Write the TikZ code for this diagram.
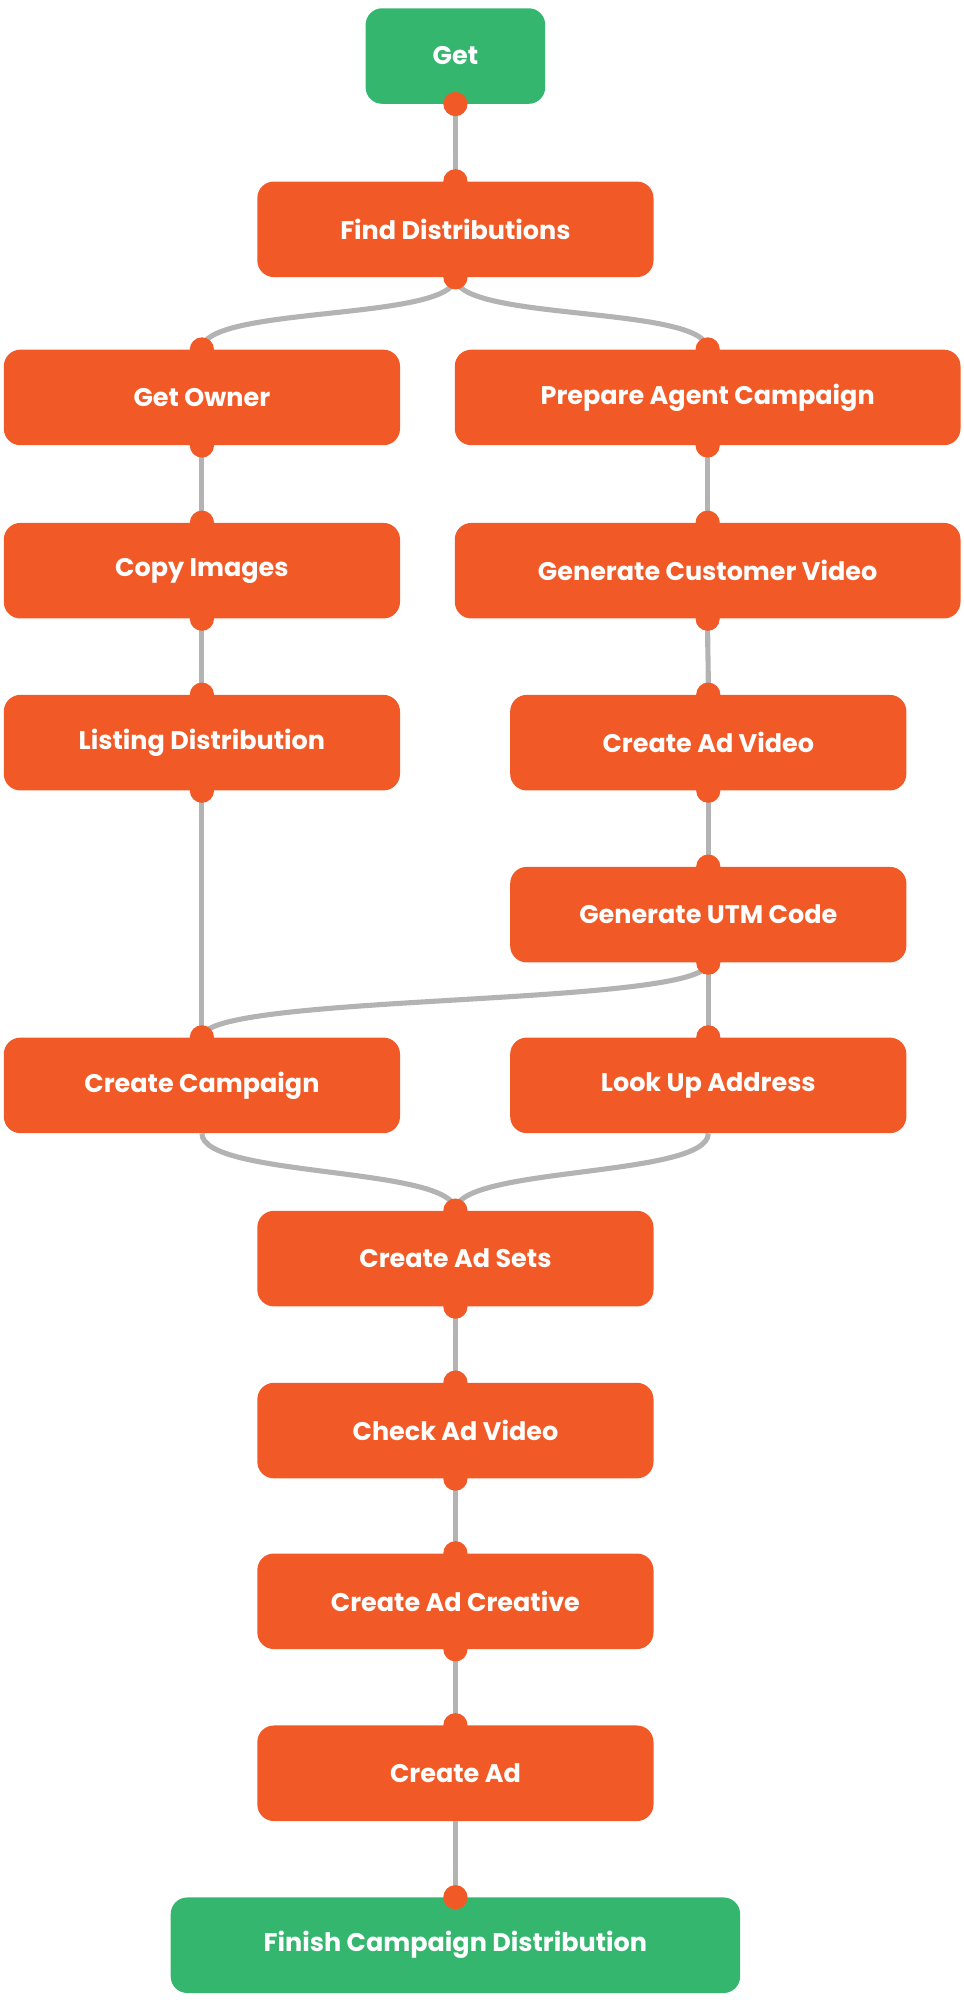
\documentclass[tikz,border=0pt]{standalone}
\usepackage{fontspec}
\setmainfont{Poppins}
\usetikzlibrary{calc}
\definecolor{org}{HTML}{F15A27}
\definecolor{grn}{HTML}{34B66F}
\definecolor{ln}{HTML}{B3B3B3}
\begin{document}
\begin{tikzpicture}[x=1pt,y=-1pt,
  box/.style={fill=org,rounded corners=13pt,minimum height=75pt,text=white,font=\fontsize{20}{24}\selectfont\bfseries,inner sep=0pt},
  gbox/.style={box,fill=grn},
  conn/.style={draw=ln,line width=4pt},
  port/.style={circle,fill=org,inner sep=0pt,minimum size=19pt}]
\useasboundingbox (0,0) rectangle (756,1570);
\node[gbox,minimum width=141pt] (get) at (357.5,44) {Get};
\node[box,minimum width=311pt] (fd) at (357.5,180) {Find Distributions};
\node[box,minimum width=311pt] (go) at (158.5,312) {Get Owner};
\node[box,minimum width=397pt] (pac) at (555.5,312) {Prepare Agent Campaign};
\node[box,minimum width=311pt] (ci) at (158.5,448) {Copy Images};
\node[box,minimum width=397pt] (gcv) at (555.5,448) {Generate Customer Video};
\node[box,minimum width=311pt] (ld) at (158.5,583) {Listing Distribution};
\node[box,minimum width=311pt] (cav) at (556,583) {Create Ad Video};
\node[box,minimum width=311pt] (utm) at (556,718) {Generate UTM Code};
\node[box,minimum width=311pt] (cc) at (158.5,852) {Create Campaign};
\node[box,minimum width=311pt] (lua) at (556,852) {Look Up Address};
\node[box,minimum width=311pt] (cas) at (357.5,988) {Create Ad Sets};
\node[box,minimum width=311pt] (cv) at (357.5,1123) {Check Ad Video};
\node[box,minimum width=311pt] (cr) at (357.5,1257) {Create Ad Creative};
\node[box,minimum width=311pt] (ca) at (357.5,1392) {Create Ad};
\node[gbox,minimum width=447pt] (fin) at (357.5,1527) {Finish Campaign Distribution};
\begin{scope}[on background layer/.style={}]
\foreach \a/\b in {get/fd,fd/go,fd/pac,go/ci,ci/ld,ld/cc,pac/gcv,gcv/cav,cav/utm,utm/cc,utm/lua,cc/cas,lua/cas,cas/cv,cv/cr,cr/ca,ca/fin}{
  \draw[conn] (\a.south) .. controls ($(\a.south)+(0,35)$) and ($(\b.north)+(0,-35)$) .. (\b.north);
}
\end{scope}
\foreach \n in {get,fd,go,pac,ci,gcv,ld,cav,utm}{\node[port] at (\n.south) {};}
\foreach \n in {fd,go,pac,ci,gcv,ld,cav,utm,cc,lua,cas,cv,cr,ca,fin}{\node[port] at (\n.north) {};}
\foreach \n in {cas,cv,cr}{\node[port] at (\n.south) {};}
\end{tikzpicture}
\end{document}
